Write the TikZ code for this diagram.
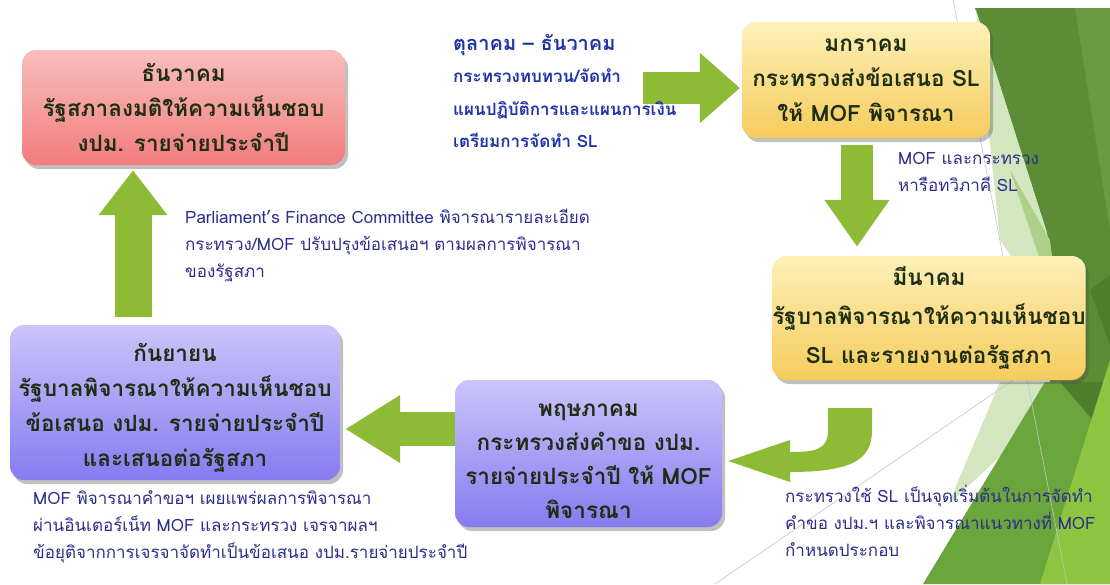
\documentclass[tikz,border=0pt]{standalone}
\usepackage{fontspec}
\setmainfont[Script=Thai]{Loma}
\usetikzlibrary{arrows.meta,shadows,calc}
\pgfdeclarelayer{facets}
\pgfdeclarelayer{arrowlayer}
\pgfsetlayers{facets,arrowlayer,main}
\definecolor{gdark}{HTML}{5C8C36}
\definecolor{gdarker}{HTML}{4E7E2C}
\definecolor{gtopr}{HTML}{6A9B40}
\definecolor{gmid}{HTML}{6AA63C}
\definecolor{gpale}{HTML}{D3E6BF}
\definecolor{gmlight}{HTML}{ACD087}
\definecolor{glight}{HTML}{8DC540}
\definecolor{arrowgreen}{HTML}{8DBB36}
\definecolor{boxtext}{HTML}{1E2E14}
\definecolor{labelblue}{HTML}{2D2D8C}
\definecolor{topblue}{HTML}{2034A8}
\definecolor{redtop}{HTML}{F9BEBE}
\definecolor{redbot}{HTML}{F27C7C}
\definecolor{yeltop}{HTML}{FDF0B8}
\definecolor{yelbot}{HTML}{F6CC5C}
\definecolor{purtop}{HTML}{CBC4FA}
\definecolor{purbot}{HTML}{877BF0}
\tikzset{
  boxtxt/.style={align=center, text=boxtext, inner sep=0pt,
    font=\fontsize{22.5}{35}\selectfont\bfseries},
  boxbase/.style={boxtxt, rounded corners=14pt,
    drop shadow={shadow xshift=3pt, shadow yshift=-4pt, opacity=.35, fill=black!70}},
  redbox/.style={boxbase, top color=redtop, bottom color=redbot},
  yelbox/.style={boxbase, top color=yeltop, bottom color=yelbot},
  purbox/.style={boxbase, top color=purtop, bottom color=purbot},
  label/.style={align=left, anchor=north west, inner sep=0pt, text=labelblue,
    font=\fontsize{17}{27}\selectfont},
  toplabel/.style={align=left, anchor=north west, inner sep=0pt, text=topblue,
    font=\fontsize{20}{32.5}\selectfont\bfseries},
  blockarrow/.style={draw=arrowgreen, line width=#1},
  deco/.style={draw=gray!45, line width=0.6pt}
}
\begin{document}
\begin{tikzpicture}[x=1pt,y=-1pt]
\useasboundingbox (0,0) rectangle (1110,584);
% background facets
\begin{pgfonlayer}{facets}
\fill[white] (0,0) rectangle (1110,584);
\fill[gdark] (975,8) -- (1110,8) -- (1110,400) -- (1050,385) -- (1047,233) -- cycle;
\fill[gtopr] (1075,8) -- (1110,8) -- (1110,230) -- cycle;
\fill[gpale] (976,10) -- (1047,233) -- (1062,330) -- (1000,240) -- cycle;
\fill[gmlight] (1010,170) -- (1050,240) -- (1060,320) -- cycle;
\fill[gdarker] (1090,290) -- (1110,275) -- (1110,345) -- cycle;
\fill[gpale] (1000,382) -- (1080,382) -- (948,505) -- cycle;
\fill[gmid] (923,584) -- (1045,382) -- (1110,382) -- (1110,584) -- cycle;
\fill[gdarker] (1060,382) -- (1110,382) -- (1110,440) -- cycle;
\fill[glight] (1040,584) -- (1110,360) -- (1110,584) -- cycle;
\draw[deco] (953,0) -- (1067,584);
\draw[deco] (715,584) -- (1035,365);
\end{pgfonlayer}

% boxes
\node[redbox, minimum width=323pt, minimum height=115pt] (b1) at (183.5,107.5)
  {ธันวาคม\\รัฐสภาลงมติให้ความเห็นชอบ\\งปม. รายจ่ายประจำปี};
\node[yelbox, minimum width=248pt, minimum height=116pt] (b2) at (866,80)
  {มกราคม\\กระทรวงส่งข้อเสนอ SL\\ให้ MOF พิจารณา};
\node[yelbox, minimum width=306pt, minimum height=124pt,
  font=\fontsize{22.5}{39}\selectfont\bfseries] (b3) at (929,318)
  {มีนาคม\\รัฐบาลพิจารณาให้ความเห็นชอบ\\SL และรายงานต่อรัฐสภา};
\node[purbox, minimum width=267pt, minimum height=147pt] (b4) at (588.5,453.5) {};
\node[boxtxt, font=\fontsize{22.5}{34}\selectfont\bfseries] (b4t) at ($(b4.center)+(0,8)$)
  {พฤษภาคม\\กระทรวงส่งคำขอ งปม.\\รายจ่ายประจำปี ให้ MOF\\พิจารณา};
\node[purbox, minimum width=330pt, minimum height=155pt] (b5) at (175,402.5) {};
\node[boxtxt] (b5t) at ($(b5.center)+(0,5)$)
  {กันยายน\\รัฐบาลพิจารณาให้ความเห็นชอบ\\ข้อเสนอ งปม. รายจ่ายประจำปี\\และเสนอต่อรัฐสภา};

% labels
\node[toplabel] (t0) at (453,34)
  {ตุลาคม – ธันวาคม\\{\fontsize{17}{32.5}\selectfont กระทรวงทบทวน/จัดทำ}\\{\fontsize{17}{32.5}\selectfont แผนปฏิบัติการและแผนการเงิน}\\{\fontsize{17}{32.5}\selectfont เตรียมการจัดทำ SL}};
\node[label] (t1) at (898,152) {MOF และกระทรวง\\หารือทวิภาคี SL};
\node[label] (t2) at (185,209)
  {Parliament's Finance Committee พิจารณารายละเอียด\\กระทรวง/MOF ปรับปรุงข้อเสนอฯ ตามผลการพิจารณา\\ของรัฐสภา};
\node[label] (t3) at (33,490)
  {MOF พิจารณาคำขอฯ เผยแพร่ผลการพิจารณา\\ผ่านอินเตอร์เน็ท MOF และกระทรวง เจรจาผลฯ\\ข้อยุติจากการเจรจาจัดทำเป็นข้อเสนอ งปม.รายจ่ายประจำปี};
\node[label] (t4) at (785,485)
  {กระทรวงใช้ SL เป็นจุดเริ่มต้นในการจัดทำ\\คำขอ งปม.ฯ และพิจารณาแนวทางที่ MOF\\กำหนดประกอบ};

% arrows
\coordinate (a1s) at (643,88);
\coordinate (x857) at (857,0);
\coordinate (x133) at (133,0);
\coordinate (y429) at (0,429);
\coordinate (c1) at (850,408);
\begin{pgfonlayer}{arrowlayer}
\draw[blockarrow=32pt, -{Triangle[width=68pt,length=40pt]}, shorten >=2pt]
  (a1s) -- (b2.west |- a1s);
\draw[blockarrow=32pt, -{Triangle[width=62pt,length=47pt]}, shorten <=7pt, shorten >=9pt]
  (b2.south -| x857) -- (b3.north -| x857);
\draw[blockarrow=37pt, -{Triangle[width=66pt,length=45pt]}, shorten <=8pt, shorten >=5pt]
  (b5.north -| x133) -- (b1.south -| x133);
\draw[blockarrow=34pt, -{Triangle[width=64pt,length=55pt]}, shorten <=-15pt, shorten >=5pt]
  (b4.west |- y429) -- (b5.east |- y429);
\fill[arrowgreen] ($(c1)+(-22,0)$) -- ($(c1)+(-22,22)$)
  .. controls ($(c1)+(-22,42)$) and ($(c1)+(-35,44)$) .. ($(c1)+(-60,44)$)
  -- ($(c1)+(-60,32)$) -- ($(b4.east)+(6,7.5)$) -- ($(c1)+(-60,74)$)
  -- ($(c1)+(-60,64)$) .. controls ($(c1)+(5,64)$) and ($(c1)+(22,50)$) .. ($(c1)+(22,22)$)
  -- ($(c1)+(22,0)$) -- cycle;
\end{pgfonlayer}
\end{tikzpicture}
\end{document}
